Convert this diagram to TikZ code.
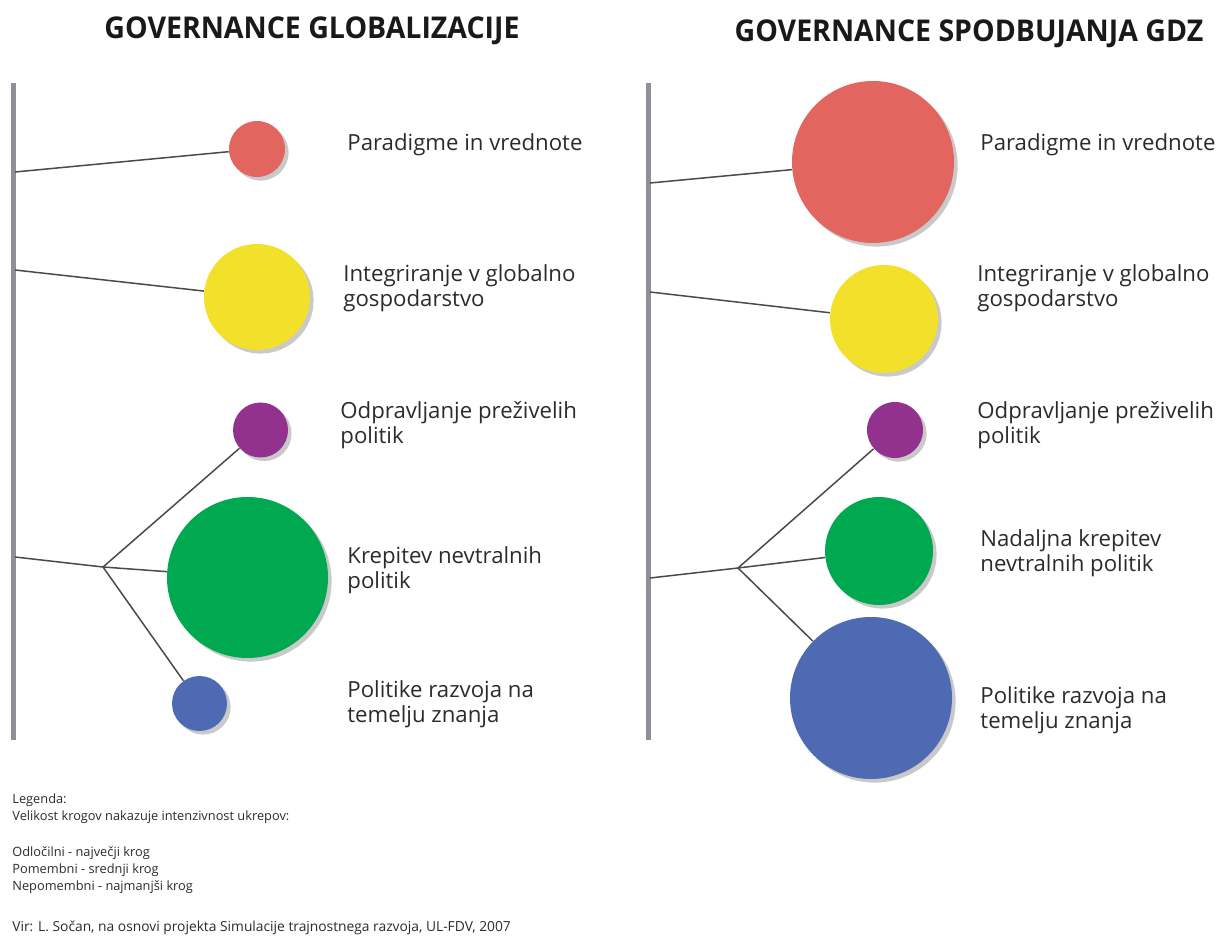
\documentclass[tikz,border=0pt]{standalone}
\usepackage{fontspec}
\setmainfont{Open Sans}
\newfontfamily\titlefont[FakeStretch=0.95]{Open Sans}
\usetikzlibrary{shadows}
\definecolor{cred}{HTML}{E2665F}
\definecolor{cyellow}{HTML}{F2E02A}
\definecolor{cpurple}{HTML}{93318F}
\definecolor{cgreen}{HTML}{00A84F}
\definecolor{cblue}{HTML}{4E6AB2}
\definecolor{barcol}{HTML}{8E9095}
\definecolor{linecol}{HTML}{4A4A4A}
\definecolor{txtcol}{HTML}{2B2B2B}
\tikzset{
  ball/.style={circle, inner sep=0pt, draw=none, fill=#1,
    drop shadow={shadow xshift=1.8pt, shadow yshift=-1.8pt, opacity=0.3, fill=black!70}},
  bar/.style={draw=barcol, line width=2.5pt},
  conn/.style={draw=linecol, line width=0.75pt},
  lbl/.style={anchor=west, align=left, text=txtcol, font=\fontsize{11.1}{12.5}\selectfont, inner sep=0pt},
  ttl/.style={font=\titlefont\bfseries\fontsize{15}{17}\selectfont, text=black!90},
  leg/.style={anchor=west, inner sep=0pt, text=txtcol, font=\fontsize{6.4}{8}\selectfont}
}
\begin{document}
\begin{tikzpicture}[x=0.5pt,y=-0.5pt]
\useasboundingbox (0,0) rectangle (1219,940);
% titles
\node[ttl] (t1) at (312,31) {GOVERNANCE GLOBALIZACIJE};
\node[ttl] (t2) at (969,34) {GOVERNANCE SPODBUJANJA GDZ};
% bars
\coordinate (b1top) at (13,83); \coordinate (b1bot) at (13,740);
\coordinate (b2top) at (648,83); \coordinate (b2bot) at (648,740);
\draw[bar] (b1top) -- (b1bot);
\draw[bar] (b2top) -- (b2bot);
% left circles
\node[ball=cred, minimum size=28pt] (L1) at (257,149) {};
\node[ball=cyellow, minimum size=53pt] (L2) at (257,297) {};
\node[ball=cpurple, minimum size=27.5pt] (L3) at (260.5,430) {};
\node[ball=cgreen, minimum size=80.5pt] (L4) at (247.5,577.5) {};
\node[ball=cblue, minimum size=27.5pt] (L5) at (199.5,703.5) {};
% left connectors
\coordinate (la) at (15,172);
\coordinate (lb) at (15,270);
\coordinate (lc) at (15,557);
\coordinate (lj) at (103,567);
\draw[conn] (la) -- (L1);
\draw[conn] (lb) -- (L2);
\draw[conn] (lc) -- (lj);
\draw[conn] (lj) -- (L3);
\draw[conn] (lj) -- (L4);
\draw[conn] (lj) -- (L5);
% left labels
\node[lbl] (ll1) at (347,145) {Paradigme in vrednote};
\node[lbl] (ll2) at (343,288) {Integriranje v globalno\\gospodarstvo};
\node[lbl] (ll3) at (340,425) {Odpravljanje preživelih\\politik};
\node[lbl] (ll4) at (347,570) {Krepitev nevtralnih\\politik};
\node[lbl] (ll5) at (347,704) {Politike razvoja na\\temelju znanja};
% right circles
\node[ball=cred, minimum size=81pt] (R1) at (873,162) {};
\node[ball=cyellow, minimum size=54pt] (R2) at (884,319) {};
\node[ball=cpurple, minimum size=28pt] (R3) at (895,430) {};
\node[ball=cgreen, minimum size=54pt] (R4) at (879,551) {};
\node[ball=cblue, minimum size=81pt] (R5) at (871,698) {};
% right connectors
\coordinate (ra) at (650,183);
\coordinate (rb) at (650,292);
\coordinate (rc) at (650,578);
\coordinate (rj) at (738,568);
\draw[conn] (ra) -- (R1);
\draw[conn] (rb) -- (R2);
\draw[conn] (rc) -- (rj);
\draw[conn] (rj) -- (R3);
\draw[conn] (rj) -- (R4);
\draw[conn] (rj) -- (R5);
% right labels
\node[lbl] (rl1) at (980,145) {Paradigme in vrednote};
\node[lbl] (rl2) at (977,288) {Integriranje v globalno\\gospodarstvo};
\node[lbl] (rl3) at (977,425) {Odpravljanje preživelih\\politik};
\node[lbl] (rl4) at (980,553) {Nadaljna krepitev\\nevtralnih politik};
\node[lbl] (rl5) at (980,710) {Politike razvoja na\\temelju znanja};
% legend
\node[leg] (g1) at (12,800) {Legenda:};
\node[leg] (g2) at (12,817) {Velikost krogov nakazuje intenzivnost ukrepov:};
\node[leg] (g3) at (12,853) {Odločilni - največji krog};
\node[leg] (g4) at (12,870) {Pomembni - srednji krog};
\node[leg] (g5) at (12,887) {Nepomembni - najmanjši krog};
\node[leg, font=\fontsize{6.9}{8}\selectfont] (g6) at (12,928) {Vir: L. Sočan, na osnovi projekta Simulacije trajnostnega razvoja, UL-FDV, 2007};
\end{tikzpicture}
\end{document}
